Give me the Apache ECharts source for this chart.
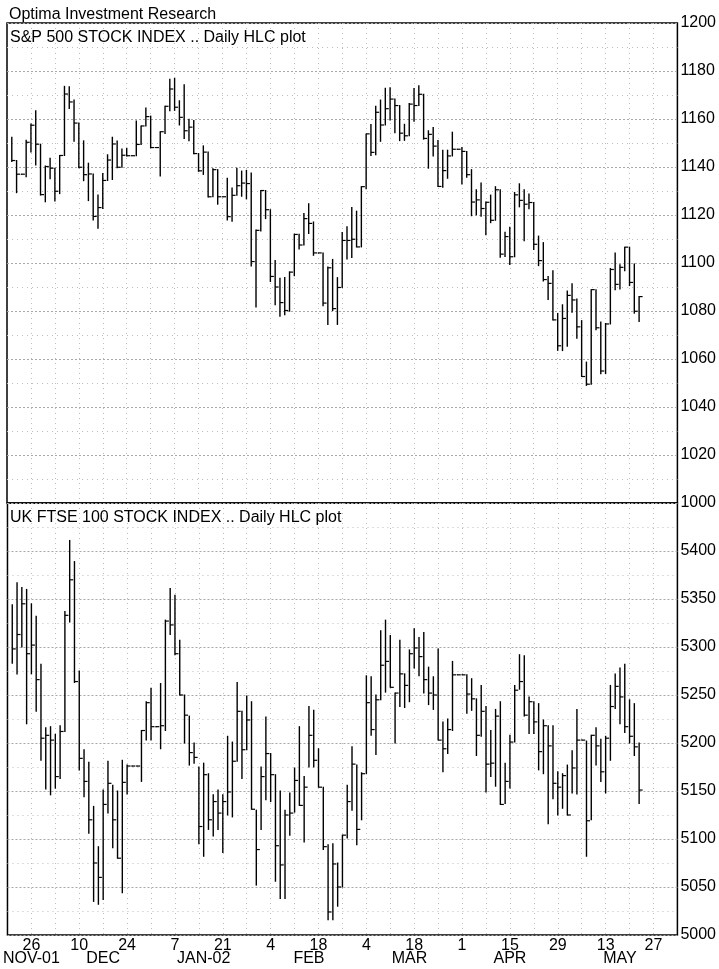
<!DOCTYPE html>
<html>
<head>
<meta charset="utf-8">
<script src="https://cdn.jsdelivr.net/npm/echarts@6/dist/echarts.min.js"></script>
<style>
  html, body { margin: 0; padding: 0; background: #fff; }
  #chart { width: 719px; height: 969px; }
</style>
</head>
<body>
<div id="chart"></div>
<script>
// weekday slots, Mon 19 Nov 2001 .. Mon 3 Jun 2002 (holidays kept as flat bars)
const firstDate = Date.UTC(2001, 10, 19);
const lastDate = Date.UTC(2002, 5, 3);
// data below starts on Tue 20 Nov 2001 (slot 1)
const firstSlot = 1;

// S&P 500 daily high / low / close
const spxHigh = [1152.4,1142.7,1137.0,1151.1,1157.9,1163.4,1149.5,1140.4,1143.6,1139.5,1144.8,1173.6,1173.4,1167.9,1158.3,1150.9,1141.6,1137.1,1128.3,1137.3,1145.1,1152.4,1150.8,1147.5,1147.8,1144.7,1159.2,1157.1,1164.6,1161.2,1148.1,1154.7,1165.3,1176.6,1177.0,1167.6,1174.3,1159.9,1159.4,1145.6,1148.8,1146.2,1139.3,1138.9,1127.6,1135.3,1131.2,1139.5,1138.3,1138.6,1137.5,1113.8,1130.2,1130.2,1122.2,1101.0,1093.6,1094.0,1096.3,1112.0,1112.0,1120.6,1124.7,1117.1,1104.2,1104.2,1098.3,1101.5,1093.9,1112.7,1115.1,1123.1,1121.6,1131.8,1153.8,1157.7,1165.3,1167.9,1172.8,1173.0,1168.3,1165.6,1157.8,1166.5,1172.7,1173.9,1170.3,1155.1,1156.5,1151.0,1147.0,1147.0,1154.5,1147.4,1148.1,1146.5,1138.9,1130.5,1133.3,1125.4,1128.3,1131.8,1130.5,1112.8,1114.9,1129.4,1133.0,1130.5,1128.8,1125.2,1111.2,1108.5,1094.4,1096.8,1079.0,1082.6,1088.3,1091.4,1085.0,1076.0,1058.7,1088.9,1088.9,1075.4,1074.8,1097.7,1104.2,1099.3,1106.6,1106.6,1099.6,1086.0];
const spxLow = [1142.3,1129.3,1137.0,1135.9,1146.2,1140.8,1128.3,1125.5,1135.1,1125.8,1128.9,1144.8,1164.4,1150.7,1139.7,1134.3,1126.0,1117.9,1114.5,1122.7,1134.4,1134.8,1139.7,1139.9,1144.6,1144.7,1144.7,1149.4,1157.1,1148.0,1148.1,1136.2,1154.0,1163.4,1163.6,1157.5,1151.9,1150.9,1145.5,1138.2,1136.9,1127.5,1127.6,1124.5,1127.6,1117.9,1117.4,1128.2,1127.8,1126.7,1098.7,1081.7,1113.3,1118.5,1092.3,1082.6,1077.8,1078.4,1079.9,1094.7,1105.8,1107.5,1112.3,1103.2,1104.2,1082.2,1074.4,1080.2,1074.4,1089.8,1101.7,1102.3,1106.7,1106.7,1130.9,1144.8,1145.1,1150.7,1157.5,1159.6,1154.3,1151.0,1151.1,1153.0,1159.1,1165.6,1151.6,1139.5,1144.6,1131.9,1131.6,1135.3,1144.6,1147.4,1132.9,1135.7,1119.7,1120.1,1119.5,1111.8,1116.8,1117.8,1102.4,1102.7,1099.4,1102.6,1123.4,1109.3,1122.6,1105.6,1098.9,1092.5,1084.8,1076.3,1063.6,1063.5,1065.3,1079.5,1068.6,1052.7,1049.0,1049.5,1072.2,1053.9,1053.9,1074.6,1088.9,1089.2,1096.8,1090.6,1079.1,1075.6];
const spxClose = [1142.7,1137.0,1137.0,1150.3,1157.4,1149.5,1128.5,1140.2,1139.5,1129.9,1144.8,1170.4,1167.1,1158.3,1139.9,1136.8,1137.1,1119.4,1123.1,1134.4,1142.9,1149.6,1139.9,1144.9,1144.7,1144.7,1149.4,1157.1,1161.0,1148.1,1148.1,1154.7,1165.3,1172.5,1164.9,1160.7,1155.1,1156.6,1145.6,1138.4,1146.2,1127.6,1138.9,1127.6,1127.6,1119.3,1128.2,1132.2,1133.3,1133.1,1100.6,1113.6,1130.2,1122.2,1094.4,1090.0,1083.5,1080.2,1096.2,1111.9,1107.5,1118.5,1116.5,1104.2,1104.2,1083.3,1098.0,1081.0,1089.8,1109.4,1109.4,1109.9,1106.7,1131.8,1153.8,1146.1,1162.8,1157.5,1164.3,1168.3,1165.6,1154.1,1153.0,1166.2,1165.6,1170.3,1151.9,1153.6,1148.7,1131.9,1138.5,1144.6,1147.4,1147.4,1146.5,1136.8,1125.4,1126.3,1122.7,1125.3,1117.8,1130.5,1103.7,1111.0,1102.6,1128.4,1126.1,1124.5,1125.2,1107.8,1101.0,1093.1,1091.5,1076.3,1065.5,1076.9,1086.5,1084.6,1073.4,1052.7,1049.5,1088.9,1073.0,1055.0,1074.6,1097.3,1091.1,1098.2,1106.6,1091.9,1079.9,1086.0];

// UK FTSE 100 daily high / low / close
const ftseHigh = [5344,5367,5362,5360,5345,5332,5282,5216,5217,5209,5218,5337,5411,5389,5275,5193,5180,5134,5092,5151,5181,5156,5150,5182,5177,5176,5176,5213,5243,5257,5217,5262,5328,5361,5354,5307,5250,5228,5200,5175,5179,5168,5146,5151,5146,5207,5201,5263,5233,5249,5243,5130,5175,5227,5189,5167,5150,5130,5148,5174,5217,5165,5238,5234,5194,5154,5094,5095,5075,5104,5156,5196,5177,5169,5270,5269,5250,5317,5328,5312,5252,5307,5272,5297,5319,5310,5315,5279,5269,5298,5222,5225,5285,5271,5271,5271,5267,5246,5260,5238,5213,5235,5243,5179,5208,5260,5292,5291,5248,5243,5241,5224,5218,5218,5170,5168,5177,5192,5235,5203,5202,5208,5216,5204,5207,5260,5272,5278,5282,5245,5241,5200];
const ftseLow = [5283,5272,5300,5220,5272,5233,5182,5152,5146,5153,5163,5212,5326,5263,5172,5144,5106,5035,5032,5037,5127,5091,5080,5044,5147,5176,5176,5160,5203,5203,5217,5194,5213,5313,5292,5250,5200,5177,5179,5095,5082,5110,5103,5110,5086,5125,5123,5181,5163,5193,5131,5052,5110,5141,5139,5056,5038,5038,5104,5128,5135,5097,5175,5175,5154,5089,5016,5016,5030,5050,5101,5130,5094,5120,5168,5208,5188,5245,5253,5258,5200,5238,5237,5243,5278,5270,5252,5240,5235,5203,5170,5189,5213,5271,5271,5231,5234,5187,5207,5149,5165,5155,5136,5137,5153,5201,5256,5228,5210,5210,5172,5168,5116,5142,5125,5132,5125,5148,5147,5203,5082,5120,5177,5160,5148,5182,5236,5220,5211,5200,5187,5137];
const ftseClose = [5298,5313,5345,5293,5302,5266,5205,5208,5203,5165,5212,5333,5370,5264,5184,5160,5120,5075,5060,5136,5158,5120,5080,5159,5176,5176,5176,5213,5242,5217,5217,5218,5327,5323,5293,5250,5229,5190,5185,5113,5167,5120,5139,5127,5139,5149,5181,5233,5193,5224,5131,5089,5165,5189,5167,5093,5073,5125,5127,5161,5135,5154,5208,5182,5154,5092,5024,5074,5050,5104,5139,5178,5110,5168,5242,5214,5245,5281,5285,5258,5252,5272,5260,5293,5299,5290,5266,5252,5250,5203,5194,5214,5271,5271,5271,5251,5246,5208,5233,5178,5179,5228,5136,5160,5201,5255,5264,5229,5243,5222,5191,5218,5197,5158,5154,5166,5125,5174,5203,5203,5119,5208,5197,5170,5205,5238,5259,5248,5217,5207,5196,5151];

// axis text
const dayLabelEvery = 10;      // every other Monday
const monthLabels = ['NOV-01', 'DEC', 'JAN-02', 'FEB', 'MAR', 'APR', 'MAY'];
const monthLabelSlots = [5, 20, 41, 63, 84, 105, 128];

const slotDates = [];
for (let t = firstDate; t <= lastDate; t += 86400000) {
    const d = new Date(t);
    const dow = d.getUTCDay();
    if (dow >= 1 && dow <= 5) slotDates.push(d);
}
const categories = slotDates.map(d => d.toISOString().slice(0, 10));

const toHLC = (highs, lows, closes) => highs.map((h, i) => [i + firstSlot, h, lows[i], closes[i]]);

const FONT = '"Liberation Sans", Arial, sans-serif';

// draws one HLC bar: vertical high-low line with the close tick on the right
const renderHLC = (params, api) => {
    const idx = api.value(0);
    const hi = api.coord([idx, api.value(1)]);
    const lo = api.coord([idx, api.value(2)]);
    const cl = api.coord([idx, api.value(3)]);
    return {
        type: 'group',
        children: [
            { type: 'line', shape: { x1: hi[0], y1: hi[1] - 0.5, x2: lo[0], y2: lo[1] + 0.5 }, style: { stroke: '#000', lineWidth: 1.4 } },
            { type: 'line', shape: { x1: cl[0], y1: cl[1], x2: cl[0] + 3.5, y2: cl[1] }, style: { stroke: '#000', lineWidth: 1.2 } }
        ]
    };
};

const gridLine = { show: true, lineStyle: { color: '#a8a8a8', type: [2, 2], width: 1 } };
const minorLine = { show: true, lineStyle: { color: '#bdbdbd', type: [1, 4], width: 1 } };
const weekLine = {
    show: true,
    interval: (i) => i % 5 === 0 && i > 0 && i < categories.length - 1,
    lineStyle: { color: '#bdbdbd', type: [1, 4], width: 1 }
};

const chart = echarts.init(document.getElementById('chart'), null, { renderer: 'canvas' });

const option = {
    animation: false,
    backgroundColor: '#fff',
    textStyle: { fontFamily: FONT },
    graphic: [
        { type: 'text', x: 9, y: 14.5, style: { text: 'Optima Investment Research', font: '16px ' + FONT, fill: '#000', verticalAlign: 'middle' } },
        { type: 'text', x: 10, y: 37.5, z: 10, style: { text: 'S&P 500 STOCK INDEX .. Daily HLC plot', font: '16px ' + FONT, fill: '#000', verticalAlign: 'middle' } },
        { type: 'text', x: 10, y: 517.5, z: 10, style: { text: 'UK FTSE 100 STOCK INDEX .. Daily HLC plot', font: '16px ' + FONT, fill: '#000', verticalAlign: 'middle' } }
    ],
    grid: [
        { left: 7, right: 40, top: 23, height: 480, show: true, borderColor: '#000', borderWidth: 1.5, backgroundColor: 'transparent' },
        { left: 7, right: 40, top: 503, height: 432, show: true, borderColor: '#000', borderWidth: 1.5, backgroundColor: 'transparent' }
    ],
    xAxis: [
        {
            type: 'category', gridIndex: 0, data: categories, boundaryGap: false,
            axisLine: { show: false }, axisTick: { show: false }, axisLabel: { show: false },
            splitLine: weekLine
        },
        {
            type: 'category', gridIndex: 1, data: categories, boundaryGap: false,
            axisLine: { show: false }, axisTick: { show: false },
            axisLabel: {
                show: true, interval: (i) => i % dayLabelEvery === 5,
                formatter: (v) => String(Number(v.slice(8, 10))),
                color: '#000', fontSize: 16, fontFamily: FONT, margin: 11, verticalAlign: 'middle'
            },
            splitLine: weekLine
        },
        {
            type: 'category', gridIndex: 1, data: categories, boundaryGap: false, position: 'bottom',
            axisLine: { show: false }, axisTick: { show: false }, splitLine: { show: false },
            axisLabel: {
                show: true, interval: (i) => monthLabelSlots.indexOf(i) >= 0,
                formatter: (v, i) => monthLabels[monthLabelSlots.indexOf(i)],
                color: '#000', fontSize: 16, fontFamily: FONT, margin: 24, verticalAlign: 'middle'
            }
        }
    ],
    yAxis: [
        {
            type: 'value', gridIndex: 0, position: 'right', min: 1000, max: 1200, interval: 20,
            axisLine: { show: false }, axisTick: { show: false },
            axisLabel: { color: '#000', fontSize: 16, fontFamily: FONT, margin: 3, formatter: (v) => String(v) },
            splitLine: gridLine,
            minorTick: { show: false, splitNumber: 2 },
            minorSplitLine: minorLine
        },
        {
            type: 'value', gridIndex: 1, position: 'right', min: 5000, max: 5450, interval: 50,
            axisLine: { show: false }, axisTick: { show: false },
            axisLabel: { color: '#000', fontSize: 16, fontFamily: FONT, margin: 3, formatter: (v) => v >= 5450 ? '' : String(v) },
            splitLine: gridLine,
            minorTick: { show: false, splitNumber: 2 },
            minorSplitLine: minorLine
        }
    ],
    series: [
        {
            name: 'S&P 500', type: 'custom', xAxisIndex: 0, yAxisIndex: 0,
            renderItem: renderHLC, encode: { x: 0, y: [1, 2, 3] },
            data: toHLC(spxHigh, spxLow, spxClose), clip: true
        },
        {
            name: 'FTSE 100', type: 'custom', xAxisIndex: 1, yAxisIndex: 1,
            renderItem: renderHLC, encode: { x: 0, y: [1, 2, 3] },
            data: toHLC(ftseHigh, ftseLow, ftseClose), clip: true
        }
    ]
};

chart.setOption(option);
</script>
</body>
</html>
